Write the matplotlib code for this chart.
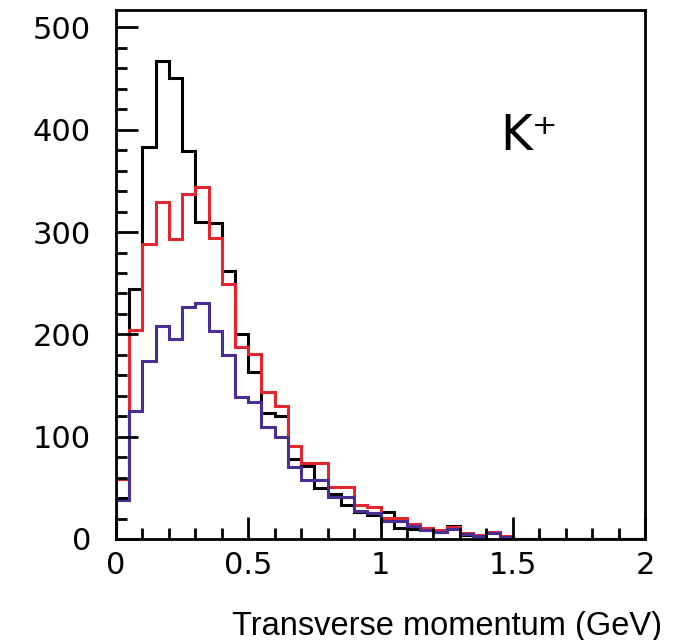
import matplotlib.pyplot as plt
import numpy as np

# transverse momentum bins, 0.05 GeV wide, 0 - 2 GeV
edges = np.linspace(0, 2, 41)

# counts per bin (bins above 1.5 GeV are empty)
black = [40, 244, 383, 467, 451, 379, 310, 309, 262, 200,
         163, 123, 120, 78, 71, 50, 44, 33, 26, 23,
         26, 11, 10, 9, 7, 13, 4, 3, 6, 2] + [0] * 10
red = [59, 204, 288, 329, 293, 337, 344, 294, 249, 188,
       181, 144, 130, 91, 74, 74, 51, 51, 33, 31,
       21, 21, 15, 11, 9, 12, 6, 4, 7, 3] + [0] * 10
blue = [38, 125, 174, 208, 195, 227, 231, 203, 180, 139,
        134, 109, 100, 70, 58, 58, 41, 41, 27, 25,
        18, 18, 13, 9, 7, 10, 5, 3, 6, 2] + [0] * 10

xticks = [0, 0.5, 1, 1.5, 2]
xticklabels = ['0', '0.5', '1', '1.5', '2']
yticks = [0, 100, 200, 300, 400, 500]

fig = plt.figure(figsize=(6.73, 6.40), dpi=100)
ax = fig.add_axes([116/673, 1 - 539/640, (645 - 116)/673, (539 - 10)/640])

lw = 2.2
ax.stairs(black, edges, baseline=0, color='black', lw=lw)
ax.stairs(red, edges, baseline=0, color='#e3262e', lw=lw)
ax.stairs(blue, edges, baseline=0, color='#4a2e96', lw=lw)

ax.set_xlim(0, 2)
ax.set_ylim(0, 517)

ax.set_xticks(xticks)
ax.set_xticklabels(xticklabels)
ax.set_xticks(np.arange(0, 2.01, 0.1), minor=True)
ax.set_yticks(yticks)
ax.set_yticks(np.arange(0, 517, 20), minor=True)

ax.tick_params(which='both', direction='in', top=False, right=False,
               width=2, labelsize=22, colors='black')
ax.tick_params(axis='y', which='major', length=16, pad=18)
ax.tick_params(axis='x', which='major', length=16, pad=9)
ax.tick_params(which='minor', length=8)
for s in ax.spines.values():
    s.set_linewidth(2)

ax.text(0.727, 0.735, 'K⁺', transform=ax.transAxes, fontsize=35,
        ha='left', va='baseline')

fig.text(662/673, 1 - 626/640, 'Transverse momentum (GeV)',
         family='Liberation Sans', fontsize=23.5, ha='right', va='center')

fig.savefig('out.png', dpi=100)
